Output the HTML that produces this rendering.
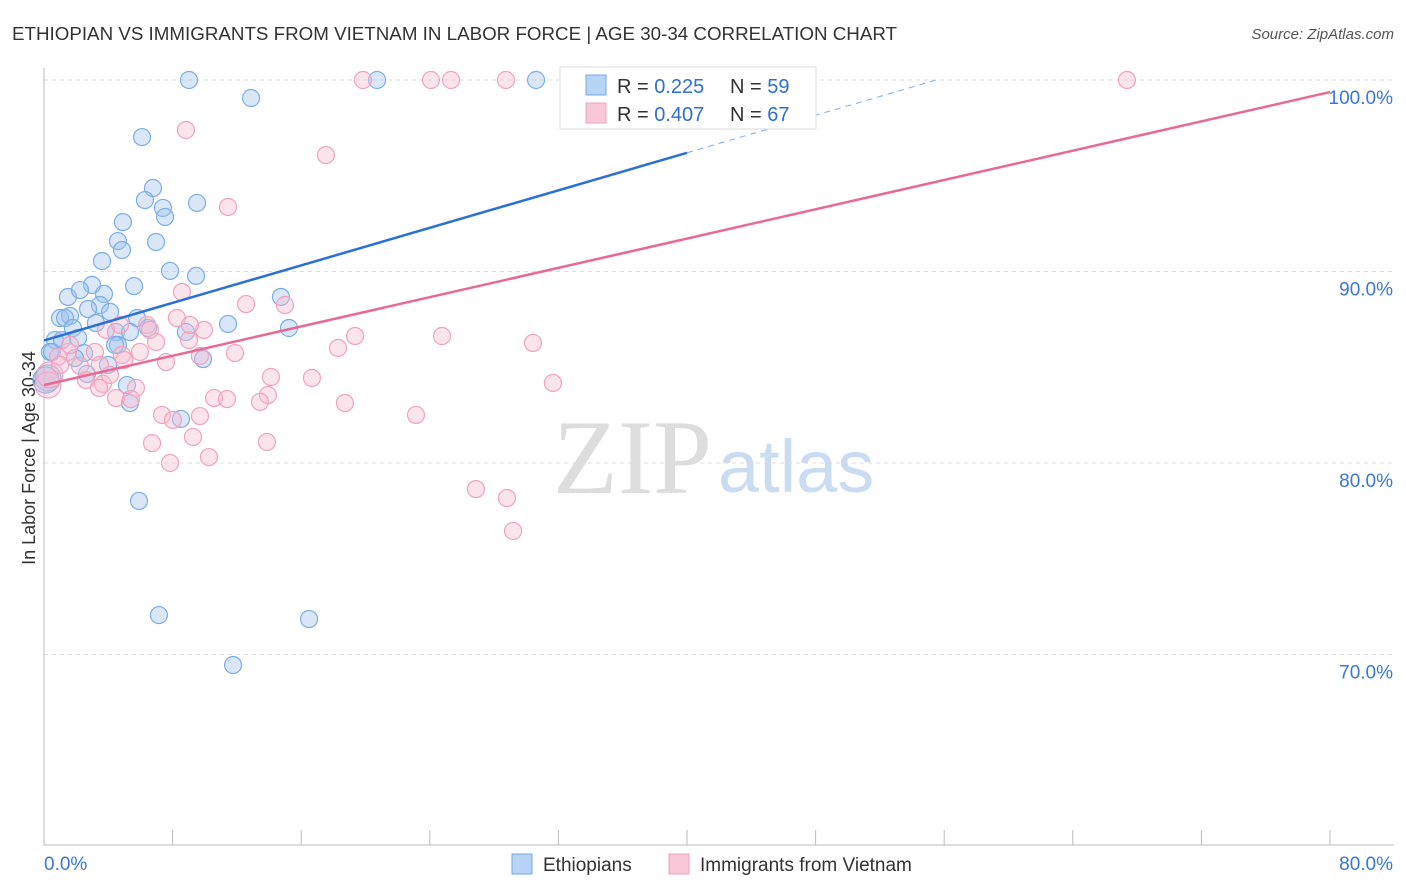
<!DOCTYPE html>
<html><head><meta charset="utf-8"><style>
body{margin:0;background:#fff;font-family:"Liberation Sans",sans-serif}
svg{display:block}
</style></head><body>
<svg id="chart" width="1406" height="892">
<text x="12" y="40" font-size="18" fill="#333" textLength="885" lengthAdjust="spacingAndGlyphs">ETHIOPIAN VS IMMIGRANTS FROM VIETNAM IN LABOR FORCE | AGE 30-34 CORRELATION CHART</text>
<text x="1394" y="39" font-size="15" fill="#555" font-style="italic" text-anchor="end">Source: ZipAtlas.com</text>
<text x="35" y="458" font-size="18" fill="#333" text-anchor="middle" transform="rotate(-90 35 458)">In Labor Force | Age 30-34</text>
<text x="553" y="493" font-size="106" fill="#ddd" font-family="Liberation Serif,serif">ZIP</text>
<text x="718" y="492" font-size="74" fill="#c9dcf2">atlas</text>
<g id="grid"></g><g id="pts"></g><g id="lines"></g>
<g>
<rect x="560" y="67" width="256" height="62" fill="#fff" stroke="#ddd"/>
<rect x="586" y="75" width="20" height="20" fill="#b8d4f4" stroke="#6fa8e8"/>
<text x="617" y="93" font-size="20" fill="#333">R = <tspan fill="#2e6fcf"> 0.225</tspan><tspan x="730">N = </tspan><tspan fill="#2e6fcf">59</tspan></text>
<rect x="586" y="103" width="20" height="20" fill="#f9c8d8" stroke="#f0a0bc"/>
<text x="617" y="121" font-size="20" fill="#333">R = <tspan fill="#2e6fcf">0.407</tspan><tspan x="730">N = </tspan><tspan fill="#2e6fcf">67</tspan></text>
</g>
<g>
<rect x="512" y="854" width="20" height="20" fill="#b8d4f4" stroke="#6fa8e8"/>
<text x="543" y="871" font-size="19" fill="#333">Ethiopians</text>
<rect x="669" y="854" width="20" height="20" fill="#f9c8d8" stroke="#f0a0bc"/>
<text x="700" y="871" font-size="19" fill="#333">Immigrants from Vietnam</text>
</g>
</svg>
<script>
const yTicks=[100,90,80,70];
const xTickLabels=["0.0%","80.0%"];
const bluePx=[[189,80],[377,80],[536,80],[251,98],[142,137],[153,188],[145,200],[163,208],[165,217],[197,203],[123,222],[118,241],[122,250],[156,242],[102,261],[170,271],[196,276],[92,285],[134,286],[68,297],[80,290],[104,294],[100,305],[88,309],[110,312],[60,318],[70,316],[65,318],[96,323],[137,318],[148,328],[228,324],[281,297],[289,328],[73,328],[55,340],[78,338],[116,332],[130,332],[186,332],[118,345],[50,352],[84,353],[75,358],[108,365],[203,359],[87,374],[48,378],[127,385],[130,403],[181,419],[139,501],[159,615],[309,619],[233,665],[52,352],[46,380],[62,340],[115,345]];
const pinkPx=[[363,80],[431,80],[451,80],[506,80],[737,80],[1127,80],[186,130],[326,155],[228,207],[182,292],[246,304],[285,305],[177,318],[147,325],[204,330],[189,340],[355,336],[442,336],[533,343],[338,348],[156,342],[235,353],[68,352],[95,352],[58,357],[122,355],[140,352],[106,330],[166,362],[124,360],[271,377],[312,378],[553,383],[86,380],[103,384],[99,388],[136,388],[116,398],[131,399],[214,398],[227,399],[268,395],[260,402],[345,403],[416,415],[162,415],[173,420],[200,416],[193,437],[152,443],[267,442],[209,457],[170,463],[476,489],[507,498],[513,531],[48,385],[50,375],[110,375],[60,365],[80,366],[120,325],[150,330],[200,356],[190,325],[70,345],[100,365]];
const blueX=bluePx.map(p=>+((p[0]-44)*80/1286).toFixed(2)), blueY=bluePx.map(p=>+(100-(p[1]-80)/19.15).toFixed(2));
const pinkX=pinkPx.map(p=>+((p[0]-44)*80/1286).toFixed(2)), pinkY=pinkPx.map(p=>+(100-(p[1]-80)/19.15).toFixed(2));
const blueTrend=[86.4,96.2], pinkTrend=[84.07,99.37];
const X=v=>44+v*1286/80, Y=v=>80+(100-v)*19.15;
const NS="http://www.w3.org/2000/svg";
function mk(t,a,p){const e=document.createElementNS(NS,t);for(const k in a)e.setAttribute(k,a[k]);p.appendChild(e);return e;}
const grid=document.getElementById('grid');
yTicks.forEach(t=>{
 const l=mk('line',{x1:44,x2:1394,y1:Y(t),y2:Y(t),stroke:'#ddd','stroke-dasharray':'4,4'},grid);
 
 
 const tx=mk('text',{x:1393,y:Y(t)+24,'font-size':19,fill:'#3a78d4','text-anchor':'end'},grid);tx.textContent=t.toFixed(1)+'%';
 
 
});
const ax=mk('line',{x1:44,x2:44,y1:68,y2:845,stroke:'#bbb'},grid);


const bx=mk('line',{x1:44,x2:1394,y1:845,y2:845,stroke:'#bbb'},grid);


for(let i=0;i<=10;i++){const t=mk('line',{x1:X(i*8),x2:X(i*8),y1:830,y2:845,stroke:'#bbb'},grid);
 
 }
[[0,44,'start'],[80,1393,'end']].forEach((d,i)=>{const t=mk('text',{x:d[1],y:870,'font-size':19,fill:'#3a78d4','text-anchor':d[2]},grid);t.textContent=xTickLabels[i];
 
 });
const pts=document.getElementById('pts');
function draw(xs,ys,fill,stroke,name){xs.forEach((x,i)=>{const big=x<0.5&&ys[i]<85.5;const c=mk('circle',{cx:X(x),cy:Y(ys[i]),r:big?13:8.5,fill:fill,stroke:stroke,'stroke-width':1.2},pts);
 
 });}
draw(blueX,blueY,'rgba(160,196,240,0.4)','#7aaee8','ethiopian-point');
draw(pinkX,pinkY,'rgba(248,188,208,0.4)','#f0a2be','vietnam-point');
const lines=document.getElementById('lines');
const slope=(blueTrend[1]-blueTrend[0])/40;
const bl=mk('line',{x1:X(0),y1:Y(blueTrend[0]),x2:X(40),y2:Y(blueTrend[1]),stroke:'#2a70d6','stroke-width':2.5},lines);


const xe=(100-blueTrend[0])/slope;
const bd=mk('line',{x1:X(40),y1:Y(blueTrend[1]),x2:X(xe),y2:Y(100),stroke:'#7aaee8','stroke-width':1,'stroke-dasharray':'6,5'},lines);


const pl=mk('line',{x1:X(0),y1:Y(pinkTrend[0]),x2:X(80),y2:Y(pinkTrend[1]),stroke:'#e86a94','stroke-width':2.5},lines);


</script>
</body></html>
